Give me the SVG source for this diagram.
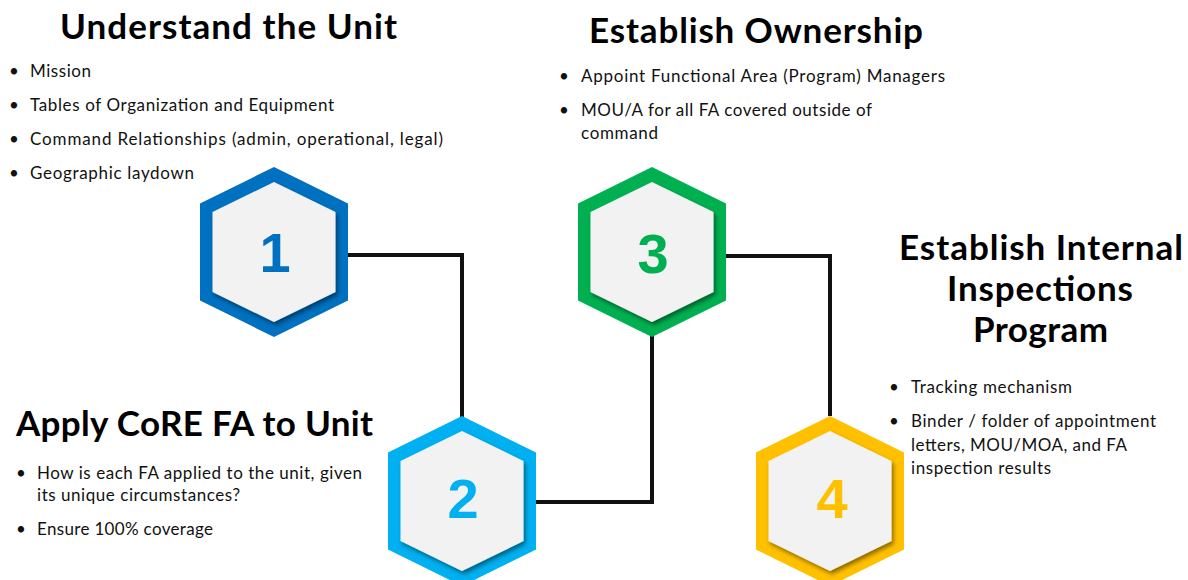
<svg xmlns="http://www.w3.org/2000/svg" width="1188" height="580" viewBox="0 0 1188 580">
  <style>
    .title { font-family: Lato, "Liberation Sans", sans-serif; font-weight: 700; font-size: 35px; fill: #000; }
    .body { font-family: Lato, "Liberation Sans", sans-serif; font-size: 17px; fill: #111; }
    .num { font-family: "Liberation Sans", Arial, sans-serif; font-weight: 700; font-size: 56px; text-anchor: middle; }
    .inner { fill: #F2F2F2; filter: url(#panelShadow); }
    .link { fill: none; stroke: #111; stroke-width: 4; }
  </style>
  <defs>
    <!-- outer ring and inner panel shapes, centred on 0,0 -->
    <polygon id="hexOuter" points="0,-85 74,-48.5 74,48.5 0,85 -74,48.5 -74,-48.5"/>
    <polygon id="hexInner" points="0,-70 61.5,-40 61.5,40 0,70 -61.5,40 -61.5,-40"/>
    <filter id="panelShadow" x="-20%" y="-20%" width="140%" height="140%">
      <feDropShadow dx="2" dy="3" stdDeviation="2" flood-color="#000" flood-opacity="0.45"/>
    </filter>
  </defs>

  <!-- connectors -->
  <g id="connectors">
    <path class="link" d="M346 255 H462 V418"/>
    <path class="link" d="M534 502 H652 V335"/>
    <path class="link" d="M724 256 H830 V416"/>
  </g>

  <!-- step 1 -->
  <g id="node1">
    <g transform="translate(274,252)">
      <use href="#hexOuter" fill="#0070C0"/>
      <use href="#hexInner" class="inner"/>
    </g>
    <text class="num" x="275" y="272" fill="#0070C0">1</text>
    <text class="title" x="60" y="39" textLength="337">Understand the Unit</text>
    <g class="body">
      <text x="9" y="77">•</text><text x="30" y="77" textLength="61">Mission</text>
      <text x="9" y="111">•</text><text x="30" y="111" textLength="304">Tables of Organization and Equipment</text>
      <text x="9" y="145">•</text><text x="30" y="145" textLength="413">Command Relationships (admin, operational, legal)</text>
      <text x="9" y="179">•</text><text x="30" y="179" textLength="164">Geographic laydown</text>
    </g>
  </g>

  <!-- step 2 -->
  <g id="node2">
    <g transform="translate(462,501)">
      <use href="#hexOuter" fill="#00B0F0"/>
      <use href="#hexInner" class="inner"/>
    </g>
    <text class="num" x="463" y="518" fill="#00B0F0">2</text>
    <text class="title" x="16" y="436" textLength="357">Apply CoRE FA to Unit</text>
    <g class="body">
      <text x="16" y="479">•</text><text x="37" y="479" textLength="325">How is each FA applied to the unit, given</text>
      <text x="37" y="501" textLength="203">its unique circumstances?</text>
      <text x="16" y="535">•</text><text x="37" y="535" textLength="176">Ensure 100% coverage</text>
    </g>
  </g>

  <!-- step 3 -->
  <g id="node3">
    <g transform="translate(652,252)">
      <use href="#hexOuter" fill="#00B050"/>
      <use href="#hexInner" class="inner"/>
    </g>
    <text class="num" x="653" y="273" fill="#00B050">3</text>
    <text class="title" x="589" y="43" textLength="334">Establish Ownership</text>
    <g class="body">
      <text x="559" y="82">•</text><text x="581" y="82" textLength="364">Appoint Functional Area (Program) Managers</text>
      <text x="559" y="116">•</text><text x="581" y="116" textLength="291">MOU/A for all FA covered outside of</text>
      <text x="581" y="139" textLength="77">command</text>
    </g>
  </g>

  <!-- step 4 -->
  <g id="node4">
    <g transform="translate(830,501)">
      <use href="#hexOuter" fill="#FFC000"/>
      <use href="#hexInner" class="inner"/>
    </g>
    <text class="num" x="832" y="518" fill="#FFC000">4</text>
    <text class="title" x="899" y="260" textLength="284">Establish Internal</text>
    <text class="title" x="947" y="301" textLength="186">Inspections</text>
    <text class="title" x="973" y="342" textLength="135">Program</text>
    <g class="body">
      <text x="889" y="393">•</text><text x="911" y="393" textLength="161">Tracking mechanism</text>
      <text x="889" y="427">•</text><text x="911" y="427" textLength="245">Binder / folder of appointment</text>
      <text x="911" y="451" textLength="216">letters, MOU/MOA, and FA</text>
      <text x="911" y="474" textLength="140">inspection results</text>
    </g>
  </g>
</svg>
